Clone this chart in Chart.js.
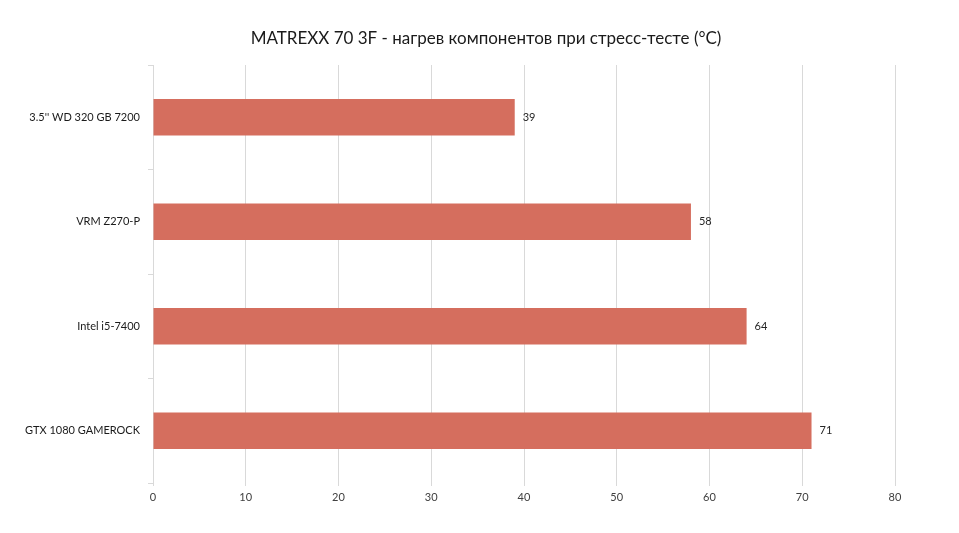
<!DOCTYPE html>
<html>
<head>
<meta charset="utf-8">
<script src="https://cdn.jsdelivr.net/npm/chart.js@4/dist/chart.umd.min.js"></script>
<style>
  html, body { margin: 0; padding: 0; background: #fff; }
  #wrap { width: 959px; height: 533px; }
</style>
</head>
<body>
<div id="wrap"><canvas id="myChart" width="959" height="533"></canvas></div>
<script>
const categories = ["3.5'' WD 320 GB 7200", "VRM Z270-P", "Intel i5-7400", "GTX 1080 GAMEROCK"];
const temps = [39, 58, 64, 71];
const xTicks = [0, 10, 20, 30, 40, 50, 60, 70, 80];
const chartTitle = "MATREXX 70 3F - нагрев компонентов при стресс-тесте (°C)";

const fontFamily = "Lato, 'Open Sans', sans-serif";

// value labels at the end of each bar, plus the title centred on the page
const barLabels = {
    id: "barLabels",
    afterDatasetsDraw(chart) {
        const ctx = chart.ctx;
        const meta = chart.getDatasetMeta(0);
        ctx.save();
        ctx.font = "11px " + fontFamily;
        ctx.fillStyle = "#262626";
        ctx.textAlign = "left";
        ctx.textBaseline = "middle";
        meta.data.forEach(function (bar, i) {
            ctx.fillText(String(temps[i]), bar.x + 8, bar.y);
        });

        ctx.font = "17px " + fontFamily;
        ctx.fillStyle = "#1a1a1a";
        ctx.textAlign = "center";
        ctx.fillText(chartTitle, 486, 39);
        ctx.restore();
    }
};

document.addEventListener("DOMContentLoaded", function () {
    const ctx = document.getElementById("myChart").getContext("2d");
    new Chart(ctx, {
        type: "bar",
        data: {
            labels: categories,
            datasets: [{
                data: temps,
                backgroundColor: "rgb(213, 110, 94)",
                borderWidth: 0,
                barPercentage: 0.35,
                categoryPercentage: 1.0
            }]
        },
        options: {
            indexAxis: "y",
            responsive: false,
            animation: false,
            layout: { padding: { left: 0, right: 64, top: 65, bottom: 0 } },
            plugins: {
                legend: { display: false },
                tooltip: { enabled: false },
                title: { display: false }
            },
            scales: {
                x: {
                    min: 0,
                    max: 80,
                    afterBuildTicks(scale) {
                        scale.ticks = xTicks.map(v => ({ value: v }));
                    },
                    afterFit(scale) { scale.height = 50; },
                    grid: { color: "#d9d9d9", lineWidth: 1, tickLength: 3 },
                    border: { display: false },
                    ticks: {
                        color: "#404040",
                        font: { family: fontFamily, size: 11 },
                        padding: 5
                    }
                },
                y: {
                    afterFit(scale) { scale.width = 153; },
                    grid: {
                        offset: true,
                        drawOnChartArea: false,
                        color: "#d9d9d9",
                        tickLength: 5
                    },
                    border: { display: true, color: "#d9d9d9" },
                    ticks: {
                        color: "#1a1a1a",
                        font: { family: fontFamily, size: 11 },
                        padding: 8
                    }
                }
            }
        },
        plugins: [barLabels]
    });
});
</script>
</body>
</html>
